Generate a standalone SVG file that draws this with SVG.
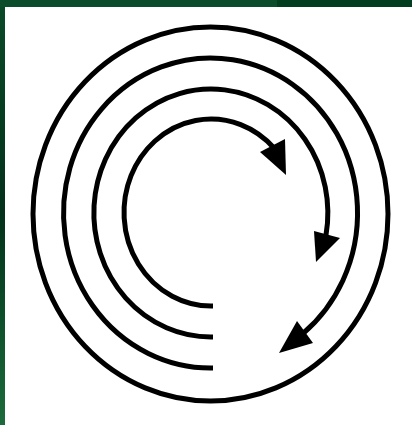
<svg xmlns="http://www.w3.org/2000/svg" width="412" height="425" viewBox="0 0 412 425">
  <defs>
    <linearGradient id="leftStrip" x1="0" y1="0" x2="0" y2="1">
      <stop offset="0" stop-color="#0a4a28"/>
      <stop offset="0.5" stop-color="#03311a"/>
      <stop offset="0.75" stop-color="#0d4f2a"/>
      <stop offset="1" stop-color="#1d6b3c"/>
    </linearGradient>
  </defs>
  <style>
    .ring { fill: none; stroke: #000; stroke-width: 5; }
    .head { fill: #000; stroke: none; }
  </style>
  <g id="background">
    <rect x="0" y="0" width="412" height="425" fill="url(#leftStrip)"/>
    <rect x="0" y="0" width="277" height="7" fill="#0b4d2a"/>
    <rect x="277" y="0" width="135" height="7" fill="#033d20"/>
    <rect x="5" y="7" width="407" height="418" fill="#ffffff"/>
  </g>
  <g id="outer-ring">
    <ellipse class="ring" cx="210.5" cy="214" rx="177.5" ry="187"/>
  </g>
  <g id="connectors">
    <g id="ring2">
      <path class="ring" d="M 213 368 L 211 368 A 147 155 0 1 1 303 333.5"/>
      <polygon class="head" points="297,321 313,343 279,353"/>
    </g>
    <g id="ring3">
      <path class="ring" d="M 213 337 L 211 337 A 117 124 0 1 1 326 235"/>
      <polygon class="head" points="314,231 340,238 316,262"/>
    </g>
    <g id="ring4">
      <path class="ring" d="M 213 306 L 211 306 A 87 93.5 0 1 1 274 148"/>
      <polygon class="head" points="260,152 285,139 286,175"/>
    </g>
  </g>
</svg>
